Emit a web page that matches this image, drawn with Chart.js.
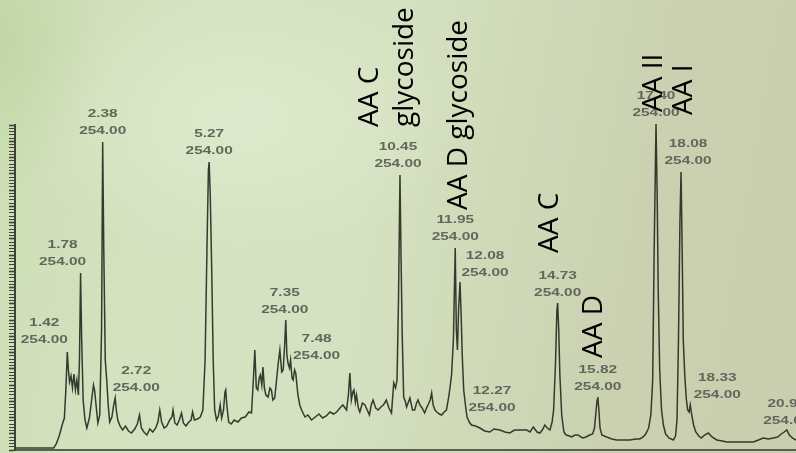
<!DOCTYPE html>
<html>
<head>
<meta charset="utf-8">
<script src="https://cdn.jsdelivr.net/npm/chart.js@4.4.0/dist/chart.umd.min.js"></script>
<style>
  html, body { margin: 0; padding: 0; }
  body {
    width: 796px;
    height: 453px;
    overflow: hidden;
    background:
      radial-gradient(ellipse 320px 200px at 240px 120px, rgba(228, 238, 212, 0.6), rgba(228, 238, 212, 0) 70%),
      radial-gradient(ellipse 150px 220px at 0px 40px, rgba(175, 203, 145, 0.4), rgba(175, 203, 145, 0) 70%),
      linear-gradient(100deg, #cddeb4 0%, #d4e2c0 22%, #d5e2c1 45%, #cfd9b8 62%, #cad0b0 80%, #c9ceae 100%);
  }
  #wrap { position: relative; width: 796px; height: 453px; }
</style>
</head>
<body>
<div id="wrap"><canvas id="chart"></canvas></div>
<script>
// retention time (min) and detector signal
const retentionTime = [
  0, 0.6, 1.05, 1.12, 1.2, 1.28, 1.34, 1.38, 1.42, 1.45, 1.48, 1.52, 1.56, 1.6, 1.64, 1.68, 1.72, 1.75, 1.78, 1.81,
  1.85, 1.9, 1.95, 2.02, 2.08, 2.13, 2.16, 2.2, 2.25, 2.3, 2.35, 2.38, 2.41, 2.45, 2.49, 2.53, 2.57, 2.63, 2.68, 2.72,
  2.75, 2.79, 2.85, 2.92, 3.0, 3.08, 3.16, 3.25, 3.32, 3.38, 3.43, 3.5, 3.58, 3.66, 3.74, 3.82, 3.88, 3.93, 3.98, 4.05,
  4.12, 4.2, 4.26, 4.29, 4.34, 4.4, 4.46, 4.52, 4.57, 4.64, 4.72, 4.78, 4.82, 4.87, 4.95, 5.03, 5.1, 5.16, 5.21, 5.25,
  5.27, 5.3, 5.34, 5.38, 5.42, 5.47, 5.52, 5.57, 5.61, 5.66, 5.7, 5.72, 5.75, 5.8, 5.87, 5.95, 6.05, 6.15, 6.25, 6.35,
  6.42, 6.47, 6.51, 6.55, 6.59, 6.63, 6.66, 6.7, 6.73, 6.77, 6.81, 6.87, 6.92, 6.96, 7.0, 7.05, 7.1, 7.14, 7.19, 7.24,
  7.28, 7.32, 7.35, 7.38, 7.41, 7.45, 7.48, 7.52, 7.55, 7.59, 7.62, 7.68, 7.73, 7.78, 7.87, 7.95, 8.05, 8.15, 8.25, 8.35,
  8.45, 8.55, 8.65, 8.73, 8.82, 8.9, 9.0, 9.05, 9.09, 9.13, 9.17, 9.2, 9.24, 9.27, 9.32, 9.36, 9.43, 9.5, 9.56, 9.62,
  9.67, 9.72, 9.79, 9.86, 9.93, 10.0, 10.08, 10.15, 10.22, 10.28, 10.33, 10.37, 10.41, 10.45, 10.48, 10.51, 10.55, 10.6, 10.63, 10.68,
  10.72, 10.79, 10.85, 10.9, 10.94, 10.99, 11.05, 11.12, 11.17, 11.21, 11.27, 11.31, 11.35, 11.4, 11.45, 11.52, 11.58, 11.65, 11.71, 11.76,
  11.8, 11.85, 11.9, 11.95, 11.98, 12.01, 12.04, 12.08, 12.11, 12.14, 12.18, 12.23, 12.27, 12.33, 12.39, 12.5, 12.62, 12.75, 12.89, 13.0,
  13.16, 13.3, 13.43, 13.56, 13.7, 13.89, 13.98, 14.07, 14.17, 14.25, 14.33, 14.38, 14.45, 14.52, 14.58, 14.62, 14.67, 14.71, 14.73, 14.76,
  14.79, 14.84, 14.9, 14.96, 15.05, 15.11, 15.2, 15.29, 15.36, 15.42, 15.5, 15.6, 15.68, 15.73, 15.77, 15.8, 15.82, 15.85, 15.88, 15.93,
  16.06, 16.2, 16.33, 16.5, 16.69, 16.85, 16.96, 17.05, 17.12, 17.2, 17.26, 17.31, 17.35, 17.4, 17.43, 17.46, 17.5, 17.55, 17.6, 17.66,
  17.75, 17.87, 17.93, 17.97, 18.01, 18.05, 18.08, 18.11, 18.14, 18.18, 18.22, 18.26, 18.3, 18.33, 18.37, 18.42, 18.48, 18.56, 18.63, 18.72,
  18.82, 18.92, 19.05, 19.2, 19.32, 19.5, 19.68, 19.85, 20.04, 20.18, 20.31, 20.45, 20.58, 20.7, 20.8, 20.88, 20.95, 21.02, 21.1, 21.2
];
const absorbance = [
  2, 2, 2, 6, 14, 25, 32, 60, 98, 80, 68, 74, 62, 76, 60, 70, 55, 90, 177, 110,
  50, 30, 22, 32, 50, 65, 60, 45, 27, 35, 120, 308, 200, 90, 70, 45, 28, 33, 45, 52,
  40, 30, 24, 20, 24, 19, 17, 21, 26, 35, 22, 18, 15, 21, 18, 22, 28, 40, 28, 22,
  24, 30, 33, 40, 27, 25, 30, 37, 27, 24, 28, 30, 38, 30, 31, 33, 40, 90, 200, 280,
  288, 255, 180, 90, 40, 30, 34, 45, 32, 40, 58, 60, 45, 28, 26, 30, 28, 32, 33, 38,
  37, 70, 100, 62, 60, 72, 75, 65, 83, 62, 55, 53, 62, 60, 50, 52, 70, 85, 100, 78,
  80, 105, 130, 95, 87, 82, 90, 72, 70, 80, 77, 55, 45, 40, 33, 35, 30, 33, 36, 32,
  34, 38, 36, 38, 42, 45, 40, 55, 77, 50, 58, 60, 48, 55, 42, 38, 47, 45, 40, 35,
  45, 50, 42, 40, 43, 45, 50, 42, 37, 67, 62, 70, 150, 275, 190, 117, 53, 48, 43, 48,
  52, 40, 40, 47, 50, 45, 42, 37, 42, 45, 50, 57, 45, 40, 38, 36, 35, 38, 40, 50,
  60, 75, 110, 202, 120, 100, 140, 168, 135, 95, 60, 44, 33, 28, 25, 24, 22, 19, 18, 21,
  20, 18, 17, 20, 20, 20, 18, 23, 18, 17, 21, 25, 22, 20, 28, 40, 85, 140, 147, 120,
  75, 35, 18, 15, 14, 13, 15, 15, 13, 12, 13, 15, 16, 22, 38, 50, 53, 40, 22, 15,
  13, 11, 10, 10, 10, 11, 11, 13, 16, 22, 35, 70, 200, 326, 260, 160, 80, 40, 25, 16,
  12, 10, 14, 30, 110, 230, 278, 200, 110, 75, 52, 40, 38, 45, 35, 25, 18, 14, 12, 15,
  17, 13, 10, 9, 8, 8, 8, 8, 8, 10, 12, 11, 12, 13, 16, 18, 20, 15, 12, 10
];

// labelled peaks (retention time), detector wavelength
const peakTimes = [1.42, 1.78, 2.38, 2.72, 5.27, 7.35, 7.48, 10.45, 11.95, 12.08, 12.27, 14.73, 15.82, 17.40, 18.08, 18.33, 20.95];
const wavelength = 254.00;

// compound names and the peak each one belongs to
const compoundNames = [["AA C", "glycoside"], ["AA D glycoside"], ["AA C"], ["AA D"], ["AA II"], ["AA I"]];
const compoundPeaks = [10.45, 11.95, 14.73, 15.82, 17.40, 18.08];

// placement of the peak labels relative to the peak top (px)
const peakLabelNudge = [
  [-23, -12], [-18, -11], [0, -11], [21, -10], [0, -11], [-1, -10], [26, -4], [-2, -11], [0, -11],
  [25, -9], [25, -9], [0, -10], [0, -10], [0, -11], [7, -11], [27, -10], [0, -9]
];
// placement of the compound names: baseline offset from peak x, start y
const compoundPlace = [[-22, 127], [12, 210], [0, 253], [4, 358], [6, 112], [11, 115]];

const drawWide = (ctx, s, x, y) => {
  ctx.save();
  ctx.translate(x, y);
  ctx.scale(1.4, 1);
  ctx.fillText(s, 0, 0);
  ctx.restore();
};

const labelPlugin = {
  id: "peakLabels",
  afterDatasetsDraw(chart) {
    const { ctx, scales: { x, y } } = chart;
    ctx.save();
    // retention time / wavelength labels
    ctx.filter = "blur(0.35px)";
    ctx.fillStyle = "#62675b";
    ctx.font = "bold 11px 'Liberation Sans', Arial, sans-serif";
    ctx.textAlign = "center";
    ctx.textBaseline = "middle";
    peakTimes.forEach((t, i) => {
      const idx = retentionTime.indexOf(t);
      const px = x.getPixelForValue(t) + peakLabelNudge[i][0];
      const py = y.getPixelForValue(absorbance[idx]) + peakLabelNudge[i][1];
      drawWide(ctx, t.toFixed(2), px, py - 17);
      drawWide(ctx, wavelength.toFixed(2), px, py);
    });
    ctx.filter = "none";

    // compound names, rotated
    ctx.fillStyle = "#000";
    ctx.font = "28px 'Open Sans', sans-serif";
    ctx.textAlign = "left";
    ctx.textBaseline = "alphabetic";
    compoundNames.forEach((lines, i) => {
      const bx = x.getPixelForValue(compoundPeaks[i]) + compoundPlace[i][0];
      ctx.save();
      ctx.translate(bx, compoundPlace[i][1]);
      ctx.rotate(-Math.PI / 2);
      lines.forEach((line, j) => ctx.fillText(line, 0, j * 35));
      ctx.restore();
    });
    ctx.restore();
  },
};

const ctx = document.getElementById("chart");
const myChart = new Chart(ctx, {
  type: "line",
  data: {
    datasets: [
      {
        data: retentionTime.map((t, i) => ({ x: t, y: absorbance[i] })),
        borderColor: "rgba(35, 40, 30, 0.9)",
        borderWidth: 1.5,
        pointRadius: 0,
        tension: 0,
        fill: false,
        clip: false,
      },
    ],
  },
  options: {
    animation: false,
    responsive: true,
    maintainAspectRatio: false,
    layout: { padding: { top: 125, left: 9, right: 0, bottom: 3 } },
    plugins: {
      legend: { display: false },
      tooltip: { enabled: false },
    },
    scales: {
      x: {
        type: "linear",
        min: 0,
        max: 21.2,
        ticks: { display: false },
        grid: { drawOnChartArea: false, drawTicks: false },
        border: { display: true, color: "#5a5f52", width: 2 },
      },
      y: {
        min: 0,
        max: 325,
        ticks: { display: false, stepSize: 3.25, maxTicksLimit: 200 },
        grid: {
          drawOnChartArea: false,
          drawTicks: true,
          tickLength: 6,
          tickColor: "#3e4337",
          tickWidth: (c) => (c.index % 5 === 0 ? 1.6 : 1),
        },
        border: { color: "#3e4337", width: 2 },
      },
    },
  },
  plugins: [labelPlugin],
});
</script>
</body>
</html>
